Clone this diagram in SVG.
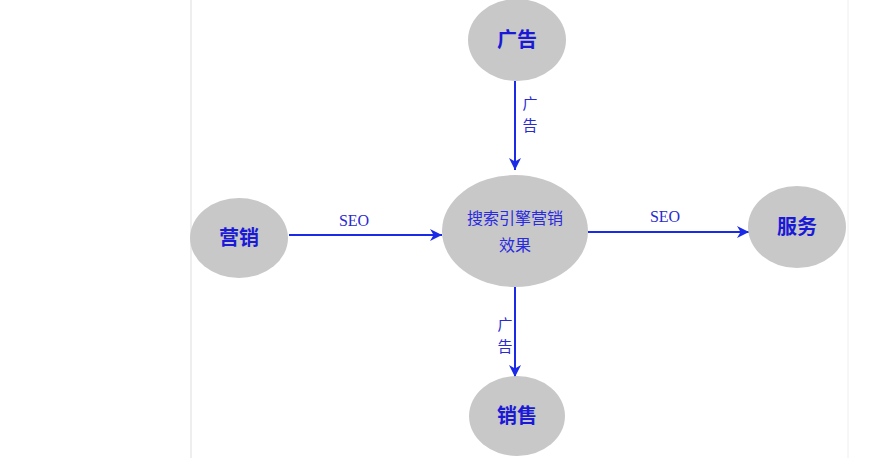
<svg xmlns="http://www.w3.org/2000/svg" width="893" height="458" viewBox="0 0 893 458">
<style>
.n{fill:#c8c8c8}
.t{font-family:"Noto Sans CJK SC",sans-serif;font-weight:bold;font-size:20px;fill:#1a1ad6;text-anchor:middle}
.c{font-family:"Noto Sans CJK SC",sans-serif;font-size:16px;fill:#2a2ae0;text-anchor:middle}
.l{font-family:"Liberation Serif",serif;font-size:16px;fill:#2a2ad0;text-anchor:middle}
.s{font-family:"Noto Sans CJK SC",sans-serif;font-size:15px;fill:#2a2ad0;text-anchor:middle}
.e{stroke:#1a2ae6;stroke-width:2;fill:none;marker-end:url(#a)}
</style>
<defs><marker id="a" viewBox="0 0 10 10" refX="10" refY="5" markerWidth="6" markerHeight="6" orient="auto" markerUnits="strokeWidth"><path d="M0,0L10,5L0,10L3,5z" fill="#1a2ae6"/></marker></defs>
<rect width="893" height="458" fill="#fff"/>
<line x1="191" y1="0" x2="191" y2="458" stroke="#ddd"/>
<line x1="848" y1="0" x2="848" y2="458" stroke="#eee"/>
<g id="connectors">
<line class="e" x1="515" y1="81" x2="515" y2="170"/>
<line class="e" x1="289" y1="235" x2="442" y2="235"/>
<line class="e" x1="588" y1="232" x2="749" y2="232"/>
<line class="e" x1="515" y1="287" x2="515" y2="377"/>
<text class="s" x="530" y="109">广</text><text class="s" x="530" y="131">告</text>
<text class="l" x="354" y="226">SEO</text>
<text class="l" x="665" y="222">SEO</text>
<text class="s" x="505" y="330">广</text><text class="s" x="505" y="352">告</text>
</g>
<g id="ad"><ellipse class="n" cx="517" cy="40" rx="49" ry="41"/><text class="t" x="517" y="47">广告</text></g>
<g id="center"><ellipse class="n" cx="515" cy="231" rx="73" ry="56"/><text class="c" x="515" y="224">搜索引擎营销</text><text class="c" x="515" y="251">效果</text></g>
<g id="marketing"><ellipse class="n" cx="239" cy="238" rx="49" ry="40"/><text class="t" x="239" y="245">营销</text></g>
<g id="service"><ellipse class="n" cx="797" cy="227" rx="49" ry="41"/><text class="t" x="797" y="234">服务</text></g>
<g id="sales"><ellipse class="n" cx="517" cy="416" rx="48" ry="40"/><text class="t" x="517" y="423">销售</text></g>
</svg>
